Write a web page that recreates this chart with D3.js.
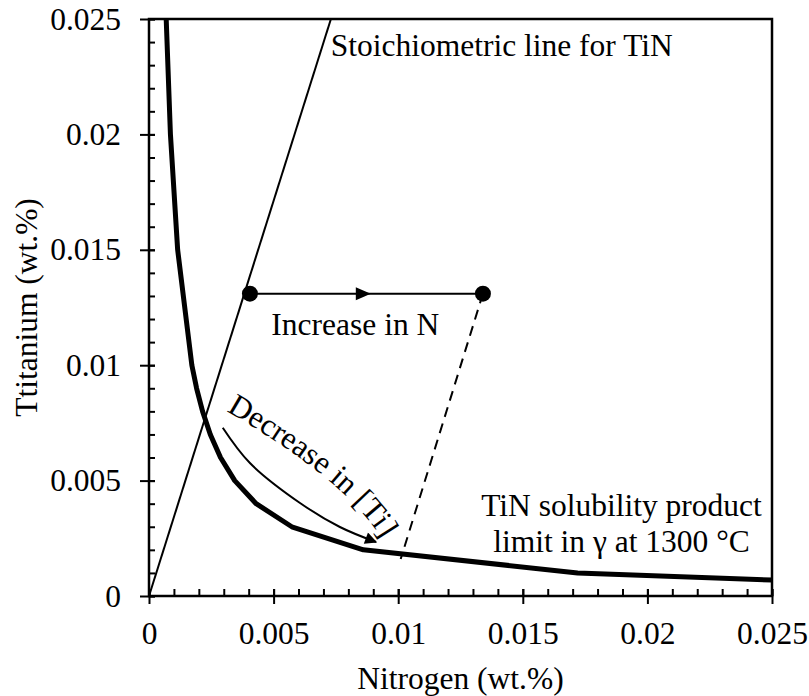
<!DOCTYPE html>
<html><head><meta charset="utf-8">
<script src="https://cdn.jsdelivr.net/npm/d3@7"></script>
<style>
body{margin:0;background:#fff}
</style>
</head><body>
<svg id="chart" width="809" height="696"></svg>
<script>
// TiN solubility product limit in austenite (gamma) at 1300 °C
const solubilityN  = [0.00069, 0.00086, 0.00115, 0.00172, 0.00191, 0.00215, 0.00246, 0.00287, 0.00344, 0.0043, 0.00573, 0.0086, 0.0172, 0.025];
const solubilityTi = [0.025, 0.02, 0.015, 0.01, 0.009, 0.008, 0.007, 0.006, 0.005, 0.004, 0.003, 0.002, 0.001, 0.00069];

// Stoichiometric line for TiN (through the origin)
const stoichN  = [0, 0.0073];
const stoichTi = [0, 0.025];

// Composition shift: increase in N at constant Ti
const shiftN  = [0.00405, 0.0134];
const shiftTi = [0.0131, 0.0131];
const shiftArrowN = 0.0089;

// Projection from the high-N point down to the solubility curve
const dropN  = [0.0134, 0.0101];
const dropTi = [0.0131, 0.0016];

// Curved arrow: decrease in dissolved Ti
const decArrowN  = [0.00296, 0.00405, 0.00606, 0.00766, 0.00911];
const decArrowTi = [0.00729, 0.00576, 0.00403, 0.00299, 0.00234];
// Baseline of the curved label (start, control, end)
const decLabelN  = [0.00309, 0.0080, 0.00935];
const decLabelTi = [0.00802, 0.00496, 0.00243];

// Axes
const xTicks = [0, 0.005, 0.01, 0.015, 0.02, 0.025];
const xTickLabels = ["0", "0.005", "0.01", "0.015", "0.02", "0.025"];
const yTicks = [0, 0.005, 0.01, 0.015, 0.02, 0.025];
const yTickLabels = ["0", "0.005", "0.01", "0.015", "0.02", "0.025"];
const minorStep = 0.001;

const xTitle = "Nitrogen (wt.%)";
const yTitle = "Ttitanium (wt.%)";

const FONT = '"Liberation Serif", monospace';
const FS = 31.5;

const svg = d3.select("#chart");
const L = 149, R = 772, T = 19, B = 596;
const x = d3.scaleLinear().domain([0, 0.025]).range([L, R]);
const y = d3.scaleLinear().domain([0, 0.025]).range([B, T]);

const defs = svg.append("defs");
defs.append("clipPath").attr("id", "plotClip")
  .append("rect").attr("x", L).attr("y", T).attr("width", R - L).attr("height", B - T);

function styleText(sel) {
  return sel.style("font-family", FONT).attr("font-size", FS).style("fill", "#000");
}

// minor ticks (inside the plot)
const minor = d3.range(0, 0.025 + 1e-9, minorStep);
svg.append("g").attr("transform", `translate(0,${B})`)
  .call(d3.axisBottom(x).tickValues(minor).tickSize(-7).tickFormat(""))
  .call(g => g.select(".domain").remove())
  .selectAll("line").attr("stroke", "#000").attr("stroke-width", 2);
svg.append("g").attr("transform", `translate(${L},0)`)
  .call(d3.axisLeft(y).tickValues(minor).tickSize(-6).tickFormat(""))
  .call(g => g.select(".domain").remove())
  .selectAll("line").attr("stroke", "#000").attr("stroke-width", 2);

// major ticks crossing the axis, with labels
const xAxis = svg.append("g").attr("transform", `translate(0,${B})`)
  .call(d3.axisBottom(x).tickValues(xTicks).tickSize(8).tickPadding(18)
    .tickFormat((d, i) => xTickLabels[i]));
xAxis.attr("font-family", null).attr("font-size", null);
xAxis.select(".domain").remove();
xAxis.selectAll("line").attr("stroke", "#000").attr("stroke-width", 2).attr("y1", -7);
styleText(xAxis.selectAll("text"));

const yAxis = svg.append("g").attr("transform", `translate(${L},0)`)
  .call(d3.axisLeft(y).tickValues(yTicks).tickSize(9).tickPadding(19)
    .tickFormat((d, i) => yTickLabels[i]));
yAxis.attr("font-family", null).attr("font-size", null);
yAxis.select(".domain").remove();
yAxis.selectAll("line").attr("stroke", "#000").attr("stroke-width", 2).attr("x1", 6);
styleText(yAxis.selectAll("text"));

// plot frame
svg.append("rect").attr("x", L).attr("y", T).attr("width", R - L).attr("height", B - T)
  .attr("fill", "none").attr("stroke", "#000").attr("stroke-width", 2.5);

// axis titles
styleText(svg.append("text").attr("x", (L + R) / 2).attr("y", 689).attr("text-anchor", "middle"))
  .text(xTitle);
styleText(svg.append("text").attr("transform", `translate(37,${(T + B) / 2}) rotate(-90)`)
  .attr("text-anchor", "middle")).text(yTitle);

const plot = svg.append("g").attr("clip-path", "url(#plotClip)");
const line = d3.line();

// stoichiometric line
plot.append("path")
  .attr("d", line(stoichN.map((n, i) => [x(n), y(stoichTi[i])])))
  .attr("fill", "none").attr("stroke", "#000").attr("stroke-width", 2);

// solubility curve
plot.append("path")
  .attr("d", line(solubilityN.map((n, i) => [x(n), y(solubilityTi[i])])))
  .attr("fill", "none").attr("stroke", "#000").attr("stroke-width", 5).attr("stroke-linejoin", "round");

// dashed projection onto the solubility curve
svg.append("path")
  .attr("d", line(dropN.map((n, i) => [x(n), y(dropTi[i])])))
  .attr("fill", "none").attr("stroke", "#000").attr("stroke-width", 2).attr("stroke-dasharray", "10,7");

// horizontal shift line with a mid arrowhead and end points
svg.append("path")
  .attr("d", line(shiftN.map((n, i) => [x(n), y(shiftTi[i])])))
  .attr("fill", "none").attr("stroke", "#000").attr("stroke-width", 2);
const tipX = x(shiftArrowN), tipY = y(shiftTi[0]);
svg.append("path")
  .attr("d", `M${tipX},${tipY}L${tipX - 15},${tipY - 6.5}L${tipX - 15},${tipY + 6.5}Z`)
  .attr("fill", "#000");
svg.selectAll("circle.pt").data(shiftN).join("circle").attr("class", "pt")
  .attr("cx", d => x(d)).attr("cy", (d, i) => y(shiftTi[i])).attr("r", 8).attr("fill", "#000");

// curved arrow
defs.append("marker").attr("id", "head")
  .attr("viewBox", "0 0 10 10").attr("refX", 9).attr("refY", 5)
  .attr("markerWidth", 16).attr("markerHeight", 12).attr("markerUnits", "userSpaceOnUse")
  .attr("orient", "auto")
  .append("path").attr("d", "M0,0L10,5L0,10Z").attr("fill", "#000");
svg.append("path")
  .attr("d", d3.line().curve(d3.curveCatmullRom)(decArrowN.map((n, i) => [x(n), y(decArrowTi[i])])))
  .attr("fill", "none").attr("stroke", "#000").attr("stroke-width", 2)
  .attr("marker-end", "url(#head)");

// label following the curved arrow
const p = decLabelN.map((n, i) => [x(n), y(decLabelTi[i])]);
defs.append("path").attr("id", "decPath")
  .attr("d", `M${p[0][0]},${p[0][1]}Q${p[1][0]},${p[1][1]} ${p[2][0]},${p[2][1]}`);
styleText(svg.append("text"))
  .append("textPath").attr("href", "#decPath").text("Decrease in [Ti]");

// annotations
styleText(svg.append("text").attr("x", x(0.00729)).attr("y", y(0.0234)))
  .text("Stoichiometric line for TiN");
styleText(svg.append("text").attr("x", x(0.00491)).attr("y", y(0.0113)))
  .text("Increase in N");
const solLabel = styleText(svg.append("text").attr("text-anchor", "middle"));
solLabel.append("tspan").attr("x", x(0.01896)).attr("y", y(0.00345)).text("TiN solubility product");
solLabel.append("tspan").attr("x", x(0.01896)).attr("y", y(0.0019)).text("limit in \u03b3 at 1300 \u00b0C");
</script>
</body></html>
